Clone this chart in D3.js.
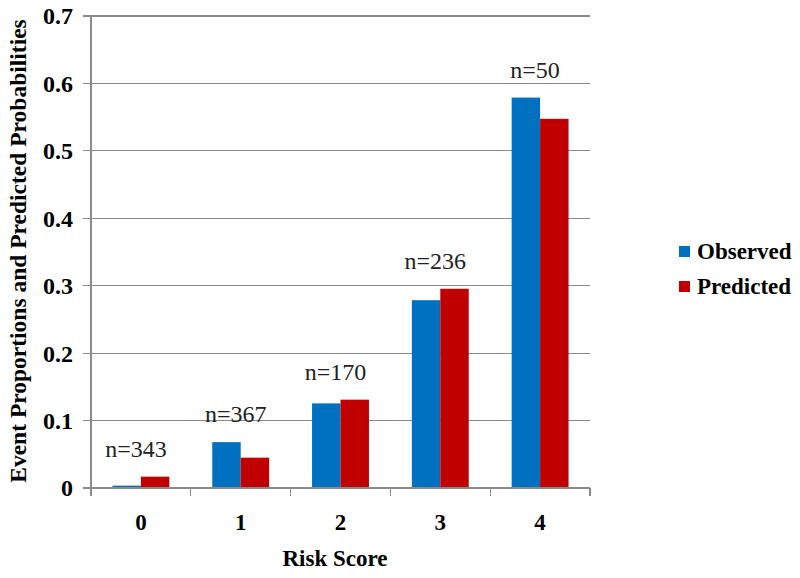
<!DOCTYPE html>
<html><head><meta charset="utf-8">
<script src="https://cdn.jsdelivr.net/npm/d3@7/dist/d3.min.js"></script>
<style>body{margin:0;background:#fff}svg{display:block}</style>
</head><body><svg id="c" width="800" height="578" font-family="'Liberation Serif', 'Times New Roman', Times, serif"></svg>
<script>
const categories = ["0","1","2","3","4"];
const observed = [0.0035, 0.068, 0.1255, 0.2785, 0.579];
const predicted = [0.0168, 0.045, 0.131, 0.2955, 0.5475];
const nLabels = ["n=343","n=367","n=170","n=236","n=50"];
const seriesNames = ["Observed","Predicted"];
const colors = ["#0070C0","#C00000"];
const yTicks = [0,0.1,0.2,0.3,0.4,0.5,0.6,0.7];

const FONT = "'Liberation Serif', 'Times New Roman', Times, serif";
const svg = d3.select("#c");
const m = {l:91, r:590, t:16, b:488};
const x = d3.scaleBand().domain(categories).range([m.l, m.r]).paddingInner(0.43).paddingOuter(0.215);
const xs = d3.scaleBand().domain(seriesNames).range([0, x.bandwidth()]);
const y = d3.scaleLinear().domain([0,0.7]).range([m.b, m.t]);
const grid = "#8a8a8a";

svg.append("g").selectAll("line").data(yTicks).join("line")
  .attr("x1", m.l-8).attr("x2", m.r).attr("y1", d=>y(d)).attr("y2", d=>y(d))
  .attr("stroke", grid).attr("stroke-width",1.2).attr("shape-rendering","crispEdges");
svg.append("line").attr("x1",m.l).attr("x2",m.l).attr("y1",m.t).attr("y2",m.b)
  .attr("stroke",grid).attr("stroke-width",1.2).attr("shape-rendering","crispEdges");
svg.append("g").selectAll("text").data(yTicks).join("text")
  .attr("x", 73).attr("y", d=>y(d)).attr("dy","0.35em").attr("text-anchor","end")
  .attr("font-family",FONT).attr("font-size",24).attr("font-weight","bold").attr("fill","#000")
  .text(d=> d===0 ? "0" : d3.format(".1f")(d));

const series = [observed, predicted];
series.forEach((vals, si) => {
  svg.append("g").selectAll("rect").data(vals).join("rect")
    .attr("x", (d,i)=> x(categories[i]) + xs(seriesNames[si]))
    .attr("width", xs.bandwidth())
    .attr("y", d=>y(d)).attr("height", d=> y(0)-y(d))
    .attr("fill", colors[si]);
});

svg.append("line").attr("x1",m.l).attr("x2",m.r).attr("y1",m.b).attr("y2",m.b)
  .attr("stroke",grid).attr("stroke-width",1.2).attr("shape-rendering","crispEdges");
const bounds = d3.range(categories.length+1).map(i => m.l + i*(m.r-m.l)/categories.length);
svg.append("g").selectAll("line").data(bounds).join("line")
  .attr("x1", d=>d).attr("x2", d=>d).attr("y1", m.b).attr("y2", m.b+8)
  .attr("stroke",grid).attr("stroke-width",1.2).attr("shape-rendering","crispEdges");
svg.append("g").selectAll("text").data(categories).join("text")
  .attr("x", d=> x(d)+x.bandwidth()/2).attr("y", 530).attr("text-anchor","middle")
  .attr("font-family",FONT).attr("font-size",23).attr("font-weight","bold").text(d=>d);

svg.append("g").selectAll("text").data(nLabels).join("text")
  .attr("x",(d,i)=> x(categories[i])+x.bandwidth()/2 - 5)
  .attr("y",(d,i)=> y(Math.max(observed[i],predicted[i])) - 20)
  .attr("text-anchor","middle").attr("font-family",FONT).attr("font-size",24).attr("fill","#222").text(d=>d);

svg.append("text").attr("x",335).attr("y",566).attr("text-anchor","middle")
  .attr("font-family",FONT).attr("font-size",23).attr("font-weight","bold").text("Risk Score");
svg.append("text").attr("transform","translate(26,251) rotate(-90)").attr("text-anchor","middle")
  .attr("font-family",FONT).attr("font-size",23.5).attr("font-weight","bold").text("Event Proportions and Predicted Probabilities");

const lg = svg.append("g");
seriesNames.forEach((s,i)=>{
  lg.append("rect").attr("x",679).attr("y",246+i*35).attr("width",11).attr("height",11).attr("fill",colors[i]);
  lg.append("text").attr("x",697).attr("y",259+i*35).attr("font-family",FONT).attr("font-size",23).attr("font-weight","bold").text(s);
});
</script></body></html>
